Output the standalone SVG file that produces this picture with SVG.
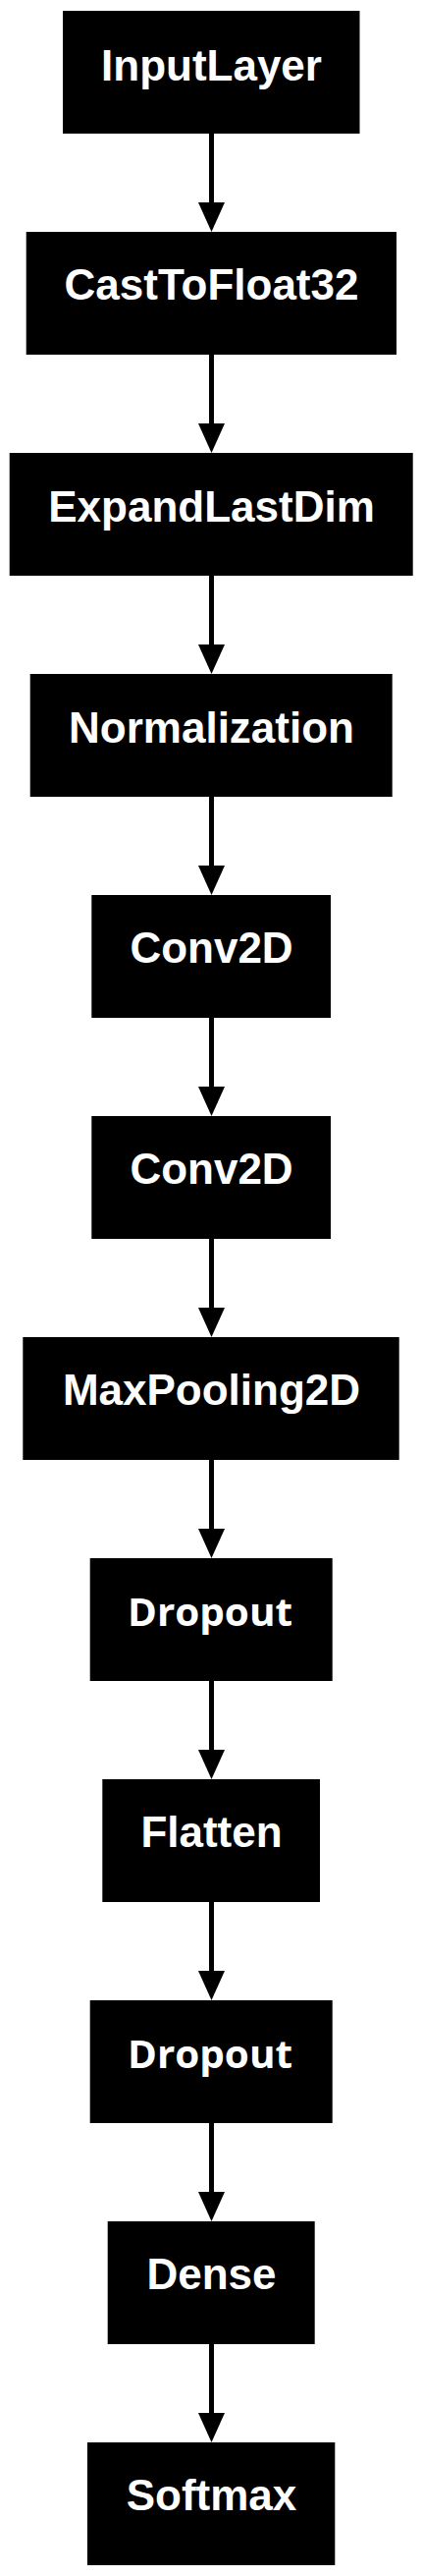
<svg xmlns="http://www.w3.org/2000/svg" width="431" height="2622" viewBox="0 0 431 2622">
<style>
.box{fill:#000;}
.lbl{fill:#fff;font-family:"Liberation Sans",Arial,sans-serif;font-weight:bold;font-size:44px;text-anchor:middle;}
.lbl2{fill:#fff;font-family:"Open Sans","Noto Sans",sans-serif;font-weight:bold;font-size:40px;text-anchor:middle;}
.edge{stroke:#000;stroke-width:5;fill:none;marker-end:url(#ah);}
</style>
<defs>
<marker id="ah" markerUnits="userSpaceOnUse" viewBox="0 0 30 27" refX="0" refY="13.5" markerWidth="30" markerHeight="27" orient="auto">
<path d="M0,0 L30,13.5 L0,27 z" fill="#000"/>
</marker>
</defs>
<rect width="431" height="2622" fill="#fff"/>
<g id="connectors">
<line class="edge" x1="215.5" y1="136" x2="215.5" y2="206"/>
<line class="edge" x1="215.5" y1="361" x2="215.5" y2="431"/>
<line class="edge" x1="215.5" y1="586" x2="215.5" y2="656"/>
<line class="edge" x1="215.5" y1="811" x2="215.5" y2="881"/>
<line class="edge" x1="215.5" y1="1036" x2="215.5" y2="1106"/>
<line class="edge" x1="215.5" y1="1261" x2="215.5" y2="1331"/>
<line class="edge" x1="215.5" y1="1486" x2="215.5" y2="1556"/>
<line class="edge" x1="215.5" y1="1711" x2="215.5" y2="1781"/>
<line class="edge" x1="215.5" y1="1936" x2="215.5" y2="2006"/>
<line class="edge" x1="215.5" y1="2161" x2="215.5" y2="2231"/>
<line class="edge" x1="215.5" y1="2386" x2="215.5" y2="2456"/>
</g>
<g id="n0"><rect class="box" x="64" y="11" width="302.5" height="125"/><text class="lbl" x="215.5" y="81.5">InputLayer</text></g>
<g id="n1"><rect class="box" x="26.7" y="236" width="377.3" height="125"/><text class="lbl" x="215.5" y="305">CastToFloat32</text></g>
<g id="n2"><rect class="box" x="9.7" y="461" width="411" height="125"/><text class="lbl" x="215.5" y="531">ExpandLastDim</text></g>
<g id="n3"><rect class="box" x="30.7" y="686" width="369" height="125"/><text class="lbl" x="215.5" y="756">Normalization</text></g>
<g id="n4"><rect class="box" x="93.3" y="911" width="243.7" height="125"/><text class="lbl" x="215.5" y="980">Conv2D</text></g>
<g id="n5"><rect class="box" x="93.3" y="1136" width="243.7" height="125"/><text class="lbl" x="215.5" y="1205">Conv2D</text></g>
<g id="n6"><rect class="box" x="23.3" y="1361" width="383.4" height="125"/><text class="lbl" x="215.5" y="1430">MaxPooling2D</text></g>
<g id="n7"><rect class="box" x="91.7" y="1586" width="247" height="125"/><text class="lbl2" x="214" y="1655" textLength="168" lengthAdjust="spacingAndGlyphs">Dropout</text></g>
<g id="n8"><rect class="box" x="104.3" y="1811" width="221.7" height="125"/><text class="lbl" x="215.5" y="1880">Flatten</text></g>
<g id="n9"><rect class="box" x="91.7" y="2036" width="247" height="125"/><text class="lbl2" x="214" y="2105" textLength="168" lengthAdjust="spacingAndGlyphs">Dropout</text></g>
<g id="n10"><rect class="box" x="109.7" y="2261" width="211" height="125"/><text class="lbl" x="215.5" y="2330">Dense</text></g>
<g id="n11"><rect class="box" x="89" y="2486" width="252.3" height="125"/><text class="lbl" x="215.5" y="2555">Softmax</text></g>
</svg>
